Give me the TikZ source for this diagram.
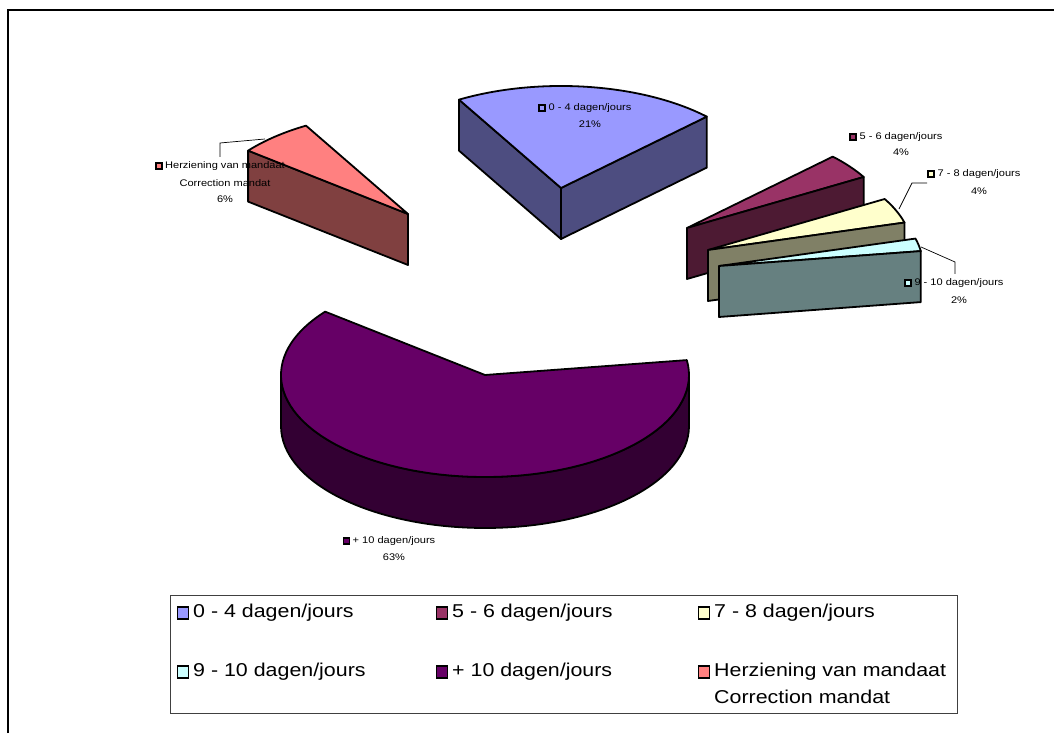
\documentclass[tikz,border=0pt]{standalone}
\usepackage{fontspec}
\newfontfamily\lblfont{Liberation Sans}[FakeStretch=1.15]
\usetikzlibrary{calc}
\definecolor{cA}{HTML}{9999FF}\definecolor{cAs}{HTML}{4D4D80}
\definecolor{cB}{HTML}{993366}\definecolor{cBs}{HTML}{4D1A33}
\definecolor{cC}{HTML}{FFFFCC}\definecolor{cCs}{HTML}{808066}
\definecolor{cD}{HTML}{CCFFFF}\definecolor{cDs}{HTML}{668080}
\definecolor{cE}{HTML}{660066}\definecolor{cEs}{HTML}{330033}
\definecolor{cF}{HTML}{FF8080}\definecolor{cFs}{HTML}{804040}
\begin{document}
\begin{tikzpicture}[x=1pt,y=1pt,
  slice/.style={draw=black,line width=1.8pt,line join=round},
  lbl/.style={font={\lblfont\fontsize{9.6}{11}\selectfont},inner sep=0pt},
  mk/.style={draw=black,line width=1.8pt,minimum size=6pt,inner sep=0pt},
  leg/.style={font={\lblfont\fontsize{18.6}{22}\selectfont},inner sep=0pt,anchor=west},
  legmk/.style={draw=black,line width=1.2pt,minimum width=11pt,minimum height=12pt,inner sep=0pt},
  leader/.style={draw=black,line width=0.7pt}]
\useasboundingbox (0,0) rectangle (1054,733);
% outer frame
\draw[line width=1.2pt] (8,0) -- (8,723) -- (1054,723);

% apex coordinates
\coordinate (pE) at (485,358);
\coordinate (pA) at (561,545);
\coordinate (pF) at (408,519);
\coordinate (pB) at (687,505);
\coordinate (pC) at (708,483);
\coordinate (pD) at (719,467);

% Herziening slice (120 -> 141.6)
\filldraw[slice,fill=cFs] (pF) -- ++(141.6:204pt and 102pt) -- ++(0,-51) -- ([yshift=-51pt]pF) -- cycle;
\filldraw[slice,fill=cF] (pF) -- ++(120:204pt and 102pt) arc[start angle=120,end angle=141.6,x radius=204pt,y radius=102pt] -- cycle;

% 0-4 slice (44.4 -> 120)
\filldraw[slice,fill=cAs] (pA) -- ++(120:204pt and 102pt) -- ++(0,-51) -- ([yshift=-51pt]pA) -- cycle;
\filldraw[slice,fill=cAs] (pA) -- ++(44.4:204pt and 102pt) -- ++(0,-51) -- ([yshift=-51pt]pA) -- cycle;
\filldraw[slice,fill=cA] (pA) -- ++(44.4:204pt and 102pt) arc[start angle=44.4,end angle=120,x radius=204pt,y radius=102pt] -- cycle;

% 5-6 slice (30 -> 44.4)
\filldraw[slice,fill=cB] (pB) -- ++(30:204pt and 102pt) arc[start angle=30,end angle=44.4,x radius=204pt,y radius=102pt] -- cycle;
\filldraw[slice,fill=cBs] (pB) -- ++(30:204pt and 102pt) -- ++(0,-51) -- ([yshift=-51pt]pB) -- cycle;

% 7-8 slice (15.6 -> 30)
\filldraw[slice,fill=cC] (pC) -- ++(15.6:204pt and 102pt) arc[start angle=15.6,end angle=30,x radius=204pt,y radius=102pt] -- cycle;
\filldraw[slice,fill=cCs] (pC) -- ++(15.6:204pt and 102pt) -- ++(0,-51) -- ([yshift=-51pt]pC) -- cycle;

% 9-10 slice (8.4 -> 15.6)
\filldraw[slice,fill=cD] (pD) -- ++(8.4:204pt and 102pt) arc[start angle=8.4,end angle=15.6,x radius=204pt,y radius=102pt] -- cycle;
\filldraw[slice,fill=cDs] (pD) -- ++(8.4:204pt and 102pt) -- ++(0,-51) -- ([yshift=-51pt]pD) -- cycle;

% +10 slice (141.6 -> 368.4)
\filldraw[slice,fill=cEs] (pE) ++(180:204pt and 102pt) arc[start angle=180,end angle=360,x radius=204pt,y radius=102pt] -- ++(0,-51) arc[start angle=360,end angle=180,x radius=204pt,y radius=102pt] -- cycle;
\filldraw[slice,fill=cE] (pE) -- ++(141.6:204pt and 102pt) arc[start angle=141.6,end angle=368.4,x radius=204pt,y radius=102pt] -- cycle;

% data labels
\node[lbl] (lA) at (590,625) {0 - 4 dagen/jours};
\node[lbl] (lAp) at (590,609) {21\%};
\node[mk,fill=cA] (mA) at ([xshift=-6pt]lA.west) {};

\node[lbl] (lB) at (901,596) {5 - 6 dagen/jours};
\node[lbl] (lBp) at (901,581) {4\%};
\node[mk,fill=cB] (mB) at ([xshift=-6pt]lB.west) {};

\node[lbl] (lC) at (979,559) {7 - 8 dagen/jours};
\node[lbl] (lCp) at (979,542) {4\%};
\node[mk,fill=cC] (mC) at ([xshift=-6pt]lC.west) {};

\node[lbl] (lD) at (959,450) {9 - 10 dagen/jours};
\node[lbl] (lDp) at (959,433) {2\%};
\node[mk,fill=cD] (mD) at ([xshift=-6pt]lD.west) {};

\node[lbl] (lE) at (394,192) {+ 10 dagen/jours};
\node[lbl] (lEp) at (394,176) {63\%};
\node[mk,fill=cE] (mE) at ([xshift=-6pt]lE.west) {};

\node[lbl] (lF) at (225,567) {Herziening van mandaat};
\node[lbl] (lF2) at (225,550) {Correction mandat};
\node[lbl] (lFp) at (225,534) {6\%};
\node[mk,fill=cF] (mF) at ([xshift=-6pt]lF.west) {};

% leader lines
\coordinate (kC1) at (899,524); \coordinate (kC2) at (912,550); \coordinate (kC3) at (927,550);
\draw[leader] (kC1) -- (kC2) -- (kC3);
\coordinate (kD1) at (921,486); \coordinate (kD2) at (955,471); \coordinate (kD3) at (955,459);
\draw[leader] (kD1) -- (kD2) -- (kD3);
\coordinate (kF1) at (265,594); \coordinate (kF2) at (220,590); \coordinate (kF3) at (220,576);
\draw[leader] (kF1) -- (kF2) -- (kF3);

% legend
\node[draw=black!75,line width=0.9pt,minimum width=787pt,minimum height=118pt,inner sep=0pt] (legend) at (563.5,79) {};
\node[legmk,fill=cA] (gA) at (183,120) {};
\node[leg] (tA) at (193,120) {0 - 4 dagen/jours};
\node[legmk,fill=cB] (gB) at (442,120) {};
\node[leg] (tB) at (452,120) {5 - 6 dagen/jours};
\node[legmk,fill=cC] (gC) at (704,120) {};
\node[leg] (tC) at (714,120) {7 - 8 dagen/jours};
\node[legmk,fill=cD] (gD) at (183,61) {};
\node[leg] (tD) at (193,61) {9 - 10 dagen/jours};
\node[legmk,fill=cE] (gE) at (442,61) {};
\node[leg] (tE) at (452,61) {+ 10 dagen/jours};
\node[legmk,fill=cF] (gF) at (704,61) {};
\node[leg] (tF) at (714,61) {Herziening van mandaat};
\node[leg] (tF2) at (714,36) {Correction mandat};
\end{tikzpicture}
\end{document}
